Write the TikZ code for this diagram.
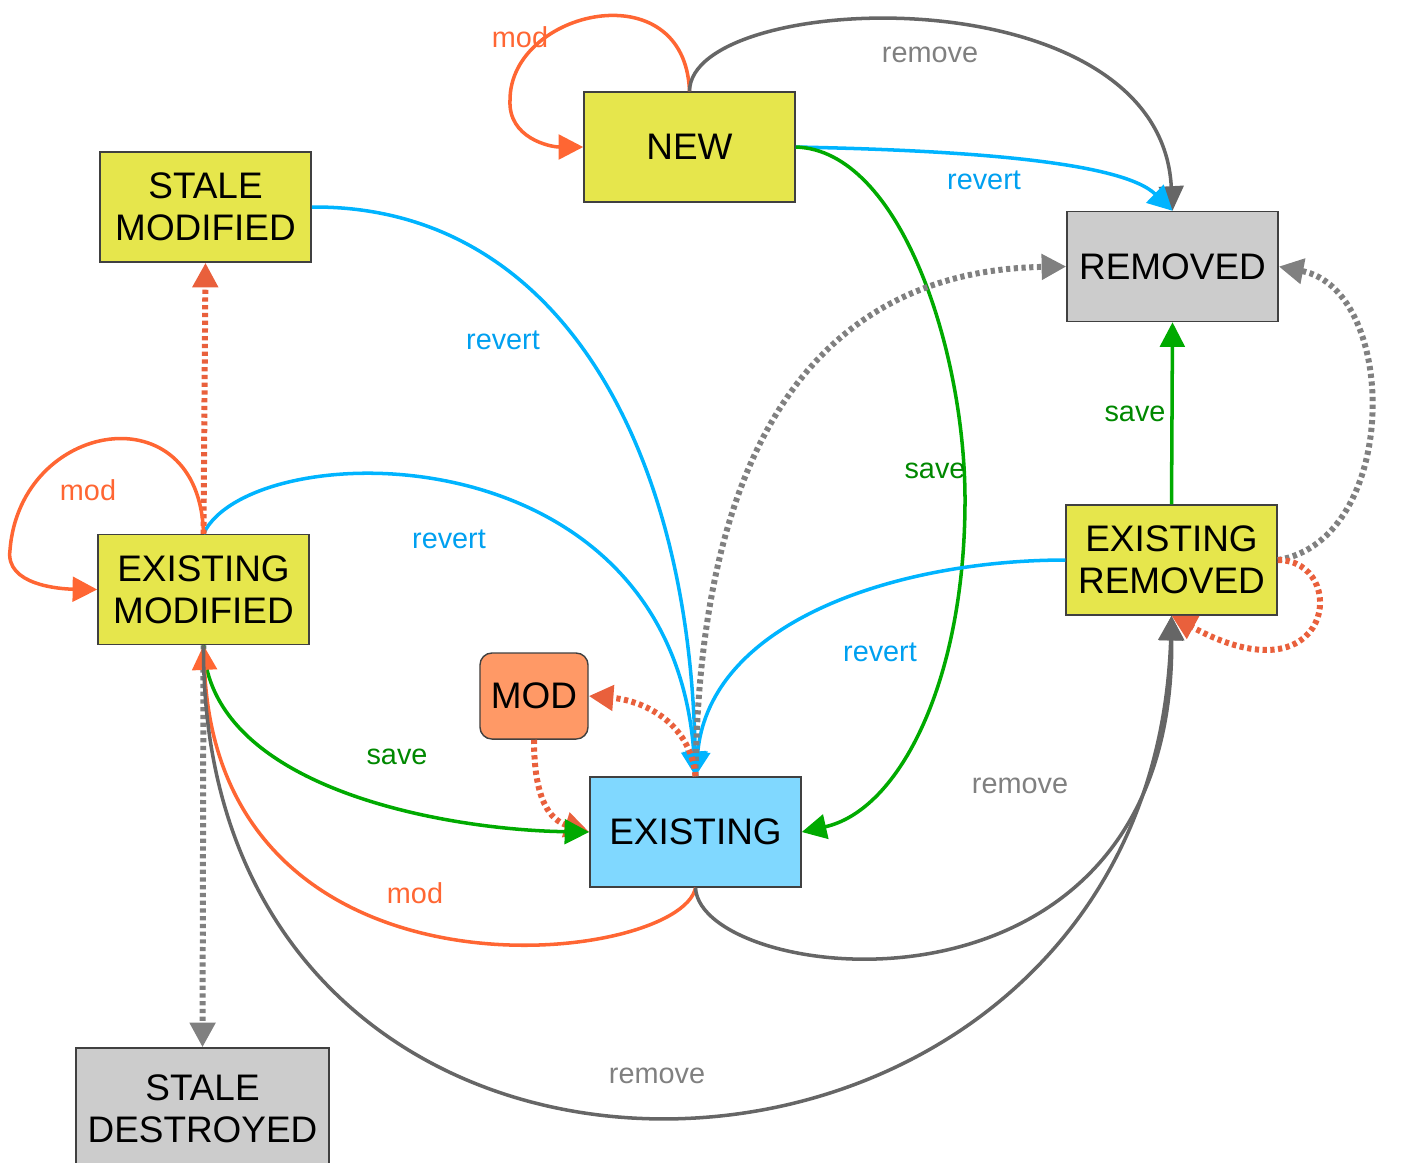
\documentclass[tikz,border=0pt]{standalone}
\usepackage{fontspec}
\setmainfont{Liberation Sans}
\usetikzlibrary{arrows.meta}

\definecolor{boxyellow}{HTML}{E6E64C}
\definecolor{boxgray}{HTML}{CCCCCC}
\definecolor{boxblue}{HTML}{80D8FF}
\definecolor{boxorange}{HTML}{FF9966}
\definecolor{modline}{HTML}{FF6633}
\definecolor{moddots}{HTML}{E9603C}
\definecolor{revline}{HTML}{00B4FF}
\definecolor{revtext}{HTML}{00A0F0}
\definecolor{saveline}{HTML}{00AA00}
\definecolor{savetext}{HTML}{008800}
\definecolor{remline}{HTML}{666666}
\definecolor{remtext}{HTML}{808080}

\tikzset{
	state/.style={draw=black!75, line width=0.4pt, minimum width=2.11cm, minimum height=1.1cm, inner sep=0pt, align=center, font=\fontsize{10.5}{12}\selectfont},
	flow/.style={line width=1pt, -{Triangle[length=7pt,width=7pt]}},
	dotflow/.style={flow, line width=1.7pt, dash pattern=on 1.2pt off 1pt},
	lbl/.style={font=\fontsize{8.2}{10}\selectfont, inner sep=0pt},
}

\begin{document}
\begin{tikzpicture}[x=0.01cm, y=-0.01cm]
		%%%%% START %%%%%
		\useasboundingbox (0, 0) rectangle (1416, 1162);
		
		\node[state, fill=boxyellow] (new) at (689.5, 147) {NEW};
		\node[state, fill=boxyellow] (stalemod) at (205.5, 207) {STALE\\MODIFIED};
		\node[state, fill=boxgray] (removed) at (1172.5, 266.5) {REMOVED};
		\node[state, fill=boxyellow] (exmod) at (203.5, 589.5) {EXISTING\\MODIFIED};
		\node[state, fill=boxyellow] (exrem) at (1171.5, 560) {EXISTING\\REMOVED};
		\node[state, fill=boxorange, rounded corners=3.4pt, minimum width=1.08cm, minimum height=0.86cm] (mod) at (534, 696) {MOD};
		\node[state, fill=boxblue] (existing) at (695.5, 832) {EXISTING};
		\node[state, fill=boxgray, minimum width=2.53cm, minimum height=1.22cm] (staledes) at (202.5, 1109) {STALE\\DESTROYED};
		
		% from NEW
		\draw[flow, color=modline] (new.north) .. controls (685, -30) and (510, 10) .. (510, 100) .. controls (508, 138) and (550, 147) .. (new.west);
		\draw[flow, color=remline] (new.north) .. controls (690, -10) and (1160, -30) .. (removed.north);
		\draw[flow, color=revline] (new.east) .. controls (950, 150) and (1120, 160) .. (removed.north);
		\draw[flow, color=saveline] (new.east) .. controls (900, 150) and (965, 350) .. (965, 500) .. controls (965, 680) and (900, 810) .. (existing.east);
		
		% reverts into EXISTING
		\draw[flow, color=revline] (stalemod.east) .. controls (560, 205) and (690, 450) .. (existing.north);
		\draw[flow, color=revline] (exmod.north) .. controls (250, 435) and (670, 425) .. (existing.north);
		\draw[flow, color=revline] (exrem.west) .. controls (900, 560) and (710, 620) .. (existing.north);
		
		% dotted ones
		\draw[dotflow, color=remtext] (existing.north) .. controls (700, 400) and (850, 270) .. (removed.west);
		\draw[dotflow, color=moddots] (existing.north) .. controls (690, 720) and (640, 700) .. (mod.east);
		\draw[dotflow, color=moddots] (mod.south) .. controls (534, 800) and (550, 820) .. (existing.west);
		\draw[dotflow, color=moddots] (exmod.north) -- (stalemod.south);
		\draw[dotflow, color=remtext] (exmod.south) -- (staledes.north);
		\draw[dotflow, color=remtext] (exrem.east) .. controls (1400, 540) and (1400, 290) .. (removed.east);
		\draw[dotflow, color=moddots] (exrem.east) .. controls (1350, 560) and (1335, 705) .. (exrem.south);
		
		% EXISTING MODIFIED
		\draw[flow, color=modline] (exmod.north) .. controls (200, 390) and (20, 420) .. (10, 550) .. controls (5, 585) and (60, 589) .. (exmod.west);
		\draw[flow, color=saveline] (exmod.south) .. controls (210, 790) and (450, 830) .. (existing.west);
		\draw[flow, color=modline] (existing.south) .. controls (680, 965) and (220, 1020) .. (exmod.south);
		\draw[flow, color=remline] (exmod.south) .. controls (200, 1300) and (1150, 1255) .. (exrem.south);
		
		% EXISTING to removed side
		\draw[flow, color=remline] (existing.south) .. controls (700, 985) and (1175, 1045) .. (exrem.south);
		\draw[flow, color=saveline] (exrem.north) -- (removed.south);
		
		% labels
		\node[lbl, color=modline] (l-newmod) at (520, 37) {mod};
		\node[lbl, color=remtext] (l-newrem) at (930, 55) {remove};
		\node[lbl, color=revtext] (l-newrev) at (984, 180) {revert};
		\node[lbl, color=revtext] (l-smrev) at (503, 340) {revert};
		\node[lbl, color=savetext] (l-newsave) at (935, 471) {save};
		\node[lbl, color=savetext] (l-ersave) at (1135, 414) {save};
		\node[lbl, color=modline] (l-emmod) at (88, 490) {mod};
		\node[lbl, color=revtext] (l-emrev) at (449, 539) {revert};
		\node[lbl, color=revtext] (l-errev) at (880, 652) {revert};
		\node[lbl, color=savetext] (l-emsave) at (397, 757) {save};
		\node[lbl, color=remtext] (l-exrem) at (1020, 786) {remove};
		\node[lbl, color=modline] (l-exmod) at (415, 893) {mod};
		\node[lbl, color=remtext] (l-emrem) at (657, 1076) {remove};
		%%%%% END %%%%%
\end{tikzpicture}
\end{document}
